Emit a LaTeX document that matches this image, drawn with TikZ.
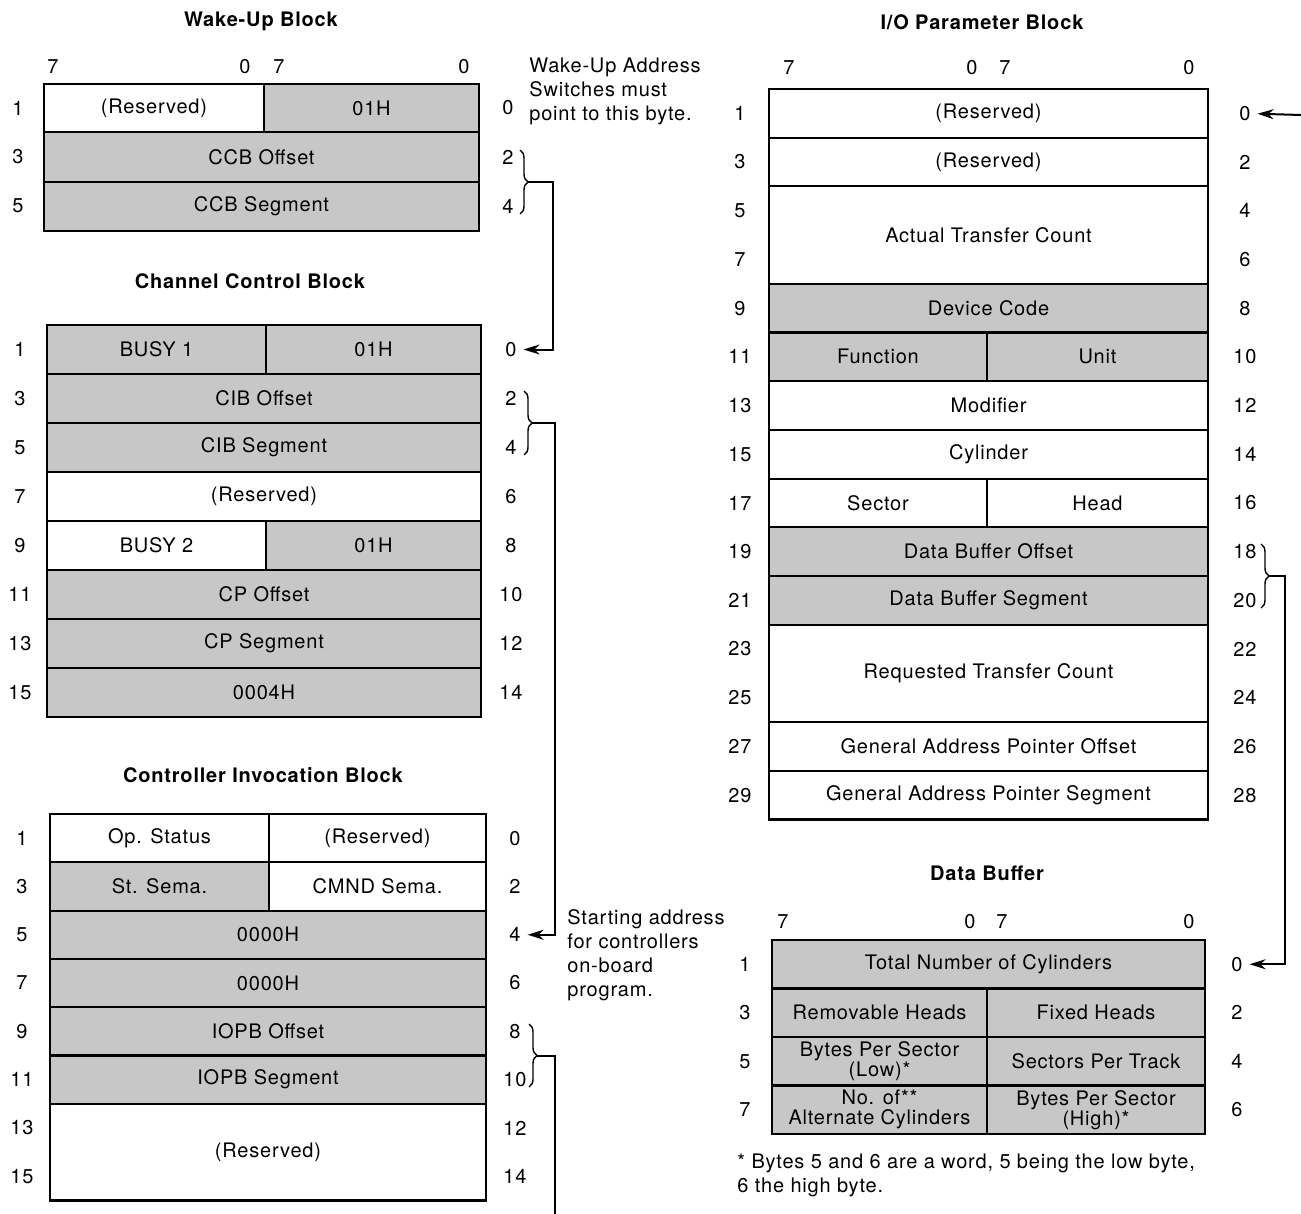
\documentclass[tikz,border=0pt]{standalone}
\usepackage{fontspec}
\setmainfont{TeX Gyre Heros}[LetterSpace=4]
\usetikzlibrary{
		calc,
		positioning,
		arrows.meta,
		decorations.pathreplacing
	}
\tikzset{
		>={Stealth[length=8pt,width=5pt]},
		fld/.style={draw, line width=1.1pt},
		fldg/.style={fld, fill=black!22},
		ttl/.style={font=\bfseries},
		note/.style={anchor=west, align=left, inner sep=0pt},
		brc/.style={decorate, decoration={brace, amplitude=4pt}, line width=0.7pt},
		lnk/.style={line width=1pt}
	}

\begin{document}
\begin{tikzpicture}[x=0.5pt, y=-0.5pt]
		\useasboundingbox (0,0) rectangle (1301,1214);
		% Wake-Up Block
		\node[ttl] (wuT) at (261,21) {Wake-Up Block};
		\foreach \x/\t [count=\i] in {53/7,245/0,279/7,464/0} \node (wuBit\i) at (\x,67) {\t};
		\draw[fld] (44,84) rectangle node (wuRes) {(Reserved)} (264,132);
		\draw[fldg] (264,84) rectangle node (wuId) {01H} (479,132);
		\draw[fldg] (44,132) rectangle node (wuOff) {CCB Offset} (479,182);
		\draw[fldg] (44,182) rectangle node (wuSeg) {CCB Segment} (479,231);
		\foreach \k in {0,1,2} {
			\pgfmathtruncatemacro\lo{2*\k+1} \pgfmathtruncatemacro\hi{2*\k}
			\node (wuL\lo) at (18,108+49*\k) {\lo}; \node (wuR\hi) at (508,108+49*\k) {\hi};
		}
		\node[note] (wuNote) at (529,91) {Wake-Up Address\\Switches must\\point to this byte.};
		\draw[brc] (520,150) -- (520,214); \coordinate (wuJ) at (528,182);

		% Channel Control Block
		\node[ttl] (ccbT) at (250,281) {Channel Control Block};
		\draw[fldg] (47,325) rectangle node (ccbBusy) {BUSY 1} (266,374);
		\draw[fldg] (266,325) rectangle node (ccbId) {01H} (481,374);
		\draw[fldg] (47,374) rectangle node (ccbCibOff) {CIB Offset} (481,423);
		\draw[fldg] (47,423) rectangle node (ccbCibSeg) {CIB Segment} (481,472);
		\draw[fld] (47,472) rectangle node (ccbRes) {(Reserved)} (481,521);
		\draw[fld] (47,521) rectangle node (ccbBusyB) {BUSY 2} (266,570);
		\draw[fldg] (266,521) rectangle node (ccbIdB) {01H} (481,570);
		\draw[fldg] (47,570) rectangle node (ccbCpOff) {CP Offset} (481,619);
		\draw[fldg] (47,619) rectangle node (ccbCpSeg) {CP Segment} (481,668);
		\draw[fldg] (47,668) rectangle node (ccbWord) {0004H} (481,717);
		\foreach \k in {0,...,7} {
			\pgfmathtruncatemacro\lo{2*\k+1} \pgfmathtruncatemacro\hi{2*\k}
			\node (ccbL\lo) at (20,349.5+49*\k) {\lo}; \node (ccbR\hi) at (511,349.5+49*\k) {\hi};
		}
		\draw[brc] (524,391) -- (524,455); \coordinate (ccbJ) at (532,423);

		% Controller Invocation Block
		\node[ttl] (cibT) at (263,775) {Controller Invocation Block};
		\draw[fld] (50,814) rectangle node (cibOp) {Op. Status} (269,862.3);
		\draw[fld] (269,814) rectangle node (cibRes) {(Reserved)} (486,862.3);
		\draw[fldg] (50,862.3) rectangle node (cibSt) {St. Sema.} (269,910.6);
		\draw[fld] (269,862.3) rectangle node (cibCmnd) {CMND Sema.} (486,910.6);
		\draw[fldg] (50,910.6) rectangle node (cibZa) {0000H} (486,958.9);
		\draw[fldg] (50,958.9) rectangle node (cibZb) {0000H} (486,1007.2);
		\draw[fldg] (50,1007.2) rectangle node (cibIoOff) {IOPB Offset} (486,1055.5);
		\draw[fldg] (50,1055.5) rectangle node (cibIoSeg) {IOPB Segment} (486,1103.8);
		\draw[fld] (50,1103.8) rectangle node (cibResB) {(Reserved)} (486,1200.4);
		\foreach \k in {0,...,7} {
			\pgfmathtruncatemacro\lo{2*\k+1} \pgfmathtruncatemacro\hi{2*\k}
			\node (cibL\lo) at (22,838.15+48.3*\k) {\lo}; \node (cibR\hi) at (515,838.15+48.3*\k) {\hi};
		}
		\node[note] (cibNote) at (567,955) {Starting address\\for controllers\\on-board\\program.};
		\draw[brc] (529,1024) -- (529,1087); \coordinate (cibJ) at (537,1055.5);
		\coordinate (cibOut) at (555,1214);

		% I/O Parameter Block
		\node[ttl] (ioT) at (982,22) {I/O Parameter Block};
		\foreach \x/\t [count=\i] in {789/7,972/0,1005/7,1189/0} \node (ioBit\i) at (\x,68) {\t};
		\draw[fld] (769,89) rectangle node (ioResA) {(Reserved)} (1208,137.7);
		\draw[fld] (769,137.7) rectangle node (ioResB) {(Reserved)} (1208,186.4);
		\draw[fld] (769,186.4) rectangle node (ioAct) {Actual Transfer Count} (1208,283.8);
		\draw[fldg] (769,283.8) rectangle node (ioDev) {Device Code} (1208,332.5);
		\draw[fldg] (769,332.5) rectangle node (ioFun) {Function} (987,381.2);
		\draw[fldg] (987,332.5) rectangle node (ioUnit) {Unit} (1208,381.2);
		\draw[fld] (769,381.2) rectangle node (ioMod) {Modifier} (1208,429.9);
		\draw[fld] (769,429.9) rectangle node (ioCyl) {Cylinder} (1208,478.6);
		\draw[fld] (769,478.6) rectangle node (ioSec) {Sector} (987,527.3);
		\draw[fld] (987,478.6) rectangle node (ioHead) {Head} (1208,527.3);
		\draw[fldg] (769,527.3) rectangle node (ioBufOff) {Data Buffer Offset} (1208,576);
		\draw[fldg] (769,576) rectangle node (ioBufSeg) {Data Buffer Segment} (1208,624.7);
		\draw[fld] (769,624.7) rectangle node (ioReq) {Requested Transfer Count} (1208,722.1);
		\draw[fld] (769,722.1) rectangle node (ioGapOff) {General Address Pointer Offset} (1208,770.8);
		\draw[fld] (769,770.8) rectangle node (ioGapSeg) {General Address Pointer Segment} (1208,819.5);
		\foreach \k in {0,...,14} {
			\pgfmathtruncatemacro\lo{2*\k+1} \pgfmathtruncatemacro\hi{2*\k}
			\node (ioL\lo) at (740,113.35+48.7*\k) {\lo}; \node (ioR\hi) at (1245,113.35+48.7*\k) {\hi};
		}
		\coordinate (ioIn) at (1301,115);
		\draw[brc] (1261,544) -- (1261,608); \coordinate (ioJ) at (1269,576);

		% Data Buffer
		\node[ttl] (dbT) at (987,873) {Data Buffer};
		\foreach \x/\t [count=\i] in {783/7,970/0,1002/7,1189/0} \node (dbBit\i) at (\x,922) {\t};
		\draw[fldg] (772,940) rectangle node (dbCyl) {Total Number of Cylinders} (1205,988.5);
		\draw[fldg] (772,988.5) rectangle node (dbRem) {Removable Heads} (987,1037);
		\draw[fldg] (987,988.5) rectangle node (dbFix) {Fixed Heads} (1205,1037);
		\draw[fldg] (772,1037) rectangle node[align=center] (dbBpsLo) {Bytes Per Sector\\[-2pt](Low)*} (987,1085.5);
		\draw[fldg] (987,1037) rectangle node (dbSpt) {Sectors Per Track} (1205,1085.5);
		\draw[fldg] (772,1085.5) rectangle node[align=center] (dbAlt) {No. of**\\[-2pt]Alternate Cylinders} (987,1134);
		\draw[fldg] (987,1085.5) rectangle node[align=center] (dbBpsHi) {Bytes Per Sector\\[-2pt](High)*} (1205,1134);
		\foreach \k in {0,...,3} {
			\pgfmathtruncatemacro\lo{2*\k+1} \pgfmathtruncatemacro\hi{2*\k}
			\node (dbL\lo) at (745,964.25+48.5*\k) {\lo}; \node (dbR\hi) at (1237,964.25+48.5*\k) {\hi};
		}
		\node[note] (dbNote) at (737,1175.5) {* Bytes 5 and 6 are a word, 5 being the low byte,\\6 the high byte.};

		% links
		\draw[lnk,->] (wuJ) -- ++(25,0) |- (ccbR0);
		\draw[lnk,->] (ccbJ) -- ++(23,0) |- (cibR4);
		\draw[lnk] (cibJ) -| (cibOut);
		\draw[lnk,->] (ioIn) -- (ioR0);
		\draw[lnk,->] (ioJ) -- ++(16,0) |- (dbR0);
	\end{tikzpicture}
\end{document}
